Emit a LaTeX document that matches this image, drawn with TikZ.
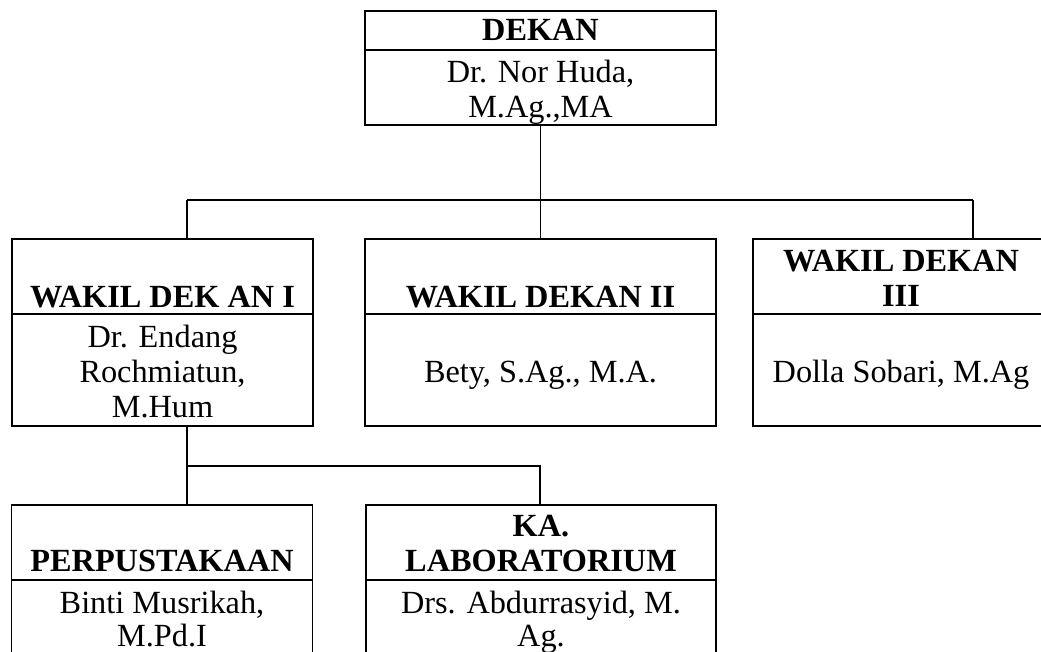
\documentclass[tikz,border=0pt]{standalone}
\usepackage{fontspec}
\setmainfont{Liberation Serif}
\begin{document}
\begin{tikzpicture}[x=1pt,y=-1pt,
  box/.style={draw,line width=1.5pt,rectangle,inner sep=0pt,outer sep=0pt},
  divider/.style={line width=1.5pt},
  conn/.style={line width=1.3pt},
  txt/.style={anchor=base,inner sep=0pt,font=\fontsize{32.3}{35}\selectfont},
  ttl/.style={txt,font=\fontsize{32.3}{35}\selectfont\bfseries}]
\useasboundingbox (0,0) rectangle (1041,651);
\clip (0,0) rectangle (1041,651);
% boxes
\node[box,minimum width=351pt,minimum height=114pt] (dekan) at (540.5,68) {};
\node[box,minimum width=301pt,minimum height=187pt] (w1) at (162.5,332.5) {};
\node[box,minimum width=351pt,minimum height=187pt] (w2) at (540.5,332.5) {};
\node[box,minimum width=296pt,minimum height=187pt] (w3) at (901,332.5) {};
\node[box,minimum width=301pt,minimum height=195pt] (perp) at (162,602.5) {};
\node[box,minimum width=350pt,minimum height=195pt] (lab) at (541,602.5) {};
% dividers
\draw[divider] (dekan.west |- 0,50) -- (dekan.east |- 0,50);
\draw[divider] (w1.west |- 0,314) -- (w1.east |- 0,314);
\draw[divider] (w2.west |- 0,314) -- (w2.east |- 0,314);
\draw[divider] (w3.west |- 0,314) -- (w3.east |- 0,314);
\draw[divider] (perp.west |- 0,580) -- (perp.east |- 0,580);
\draw[divider] (lab.west |- 0,580) -- (lab.east |- 0,580);
% texts
\node[ttl] (tdekan) at (540.5,40) {DEKAN};
\node[txt] (tdekan1) at (540.5,82) {Dr. Nor Huda,};
\node[txt] (tdekan2) at (540.5,117) {M.Ag.,MA};
\node[ttl] (tw1) at (162.5,307) {WAKIL DEK AN I};
\node[txt] (tw1a) at (162.5,347) {Dr. Endang};
\node[txt] (tw1b) at (162.5,382) {Rochmiatun,};
\node[txt] (tw1c) at (162.5,417) {M.Hum};
\node[ttl] (tw2) at (540.5,307) {WAKIL DEKAN II};
\node[txt] (tw2a) at (540.5,382) {Bety, S.Ag., M.A.};
\node[ttl] (tw3a) at (901,271) {WAKIL DEKAN};
\node[ttl] (tw3b) at (901,306) {III};
\node[txt] (tw3c) at (901,382) {Dolla Sobari, M.Ag};
\node[ttl] (tpa) at (162,571) {PERPUSTAKAAN};
\node[txt] (tpb) at (162,613) {Binti Musrikah,};
\node[txt] (tpc) at (162,646) {M.Pd.I};
\node[ttl] (tla) at (541,536) {KA.};
\node[ttl] (tlb) at (541,571) {LABORATORIUM};
\node[txt] (tlc) at (541,613) {Drs. Abdurrasyid, M.};
\node[txt] (tld) at (541,646) {Ag.};
% connectors
\coordinate (j1) at (187,200);
\coordinate (j3) at (973,200);
\draw[conn] (dekan.south) -- (w2.north);
\draw[conn] (j1) -- (j3);
\draw[conn] (j1) -- (j1 |- w1.north);
\draw[conn] (j3) -- (j3 |- w3.north);
\coordinate (k1) at (187,466);
\coordinate (k2) at (540,466);
\draw[conn] (k1 |- w1.south) -- (k1) -- (k2) -- (k2 |- lab.north);
\draw[conn] (k1) -- (k1 |- perp.north);
\end{tikzpicture}
\end{document}
